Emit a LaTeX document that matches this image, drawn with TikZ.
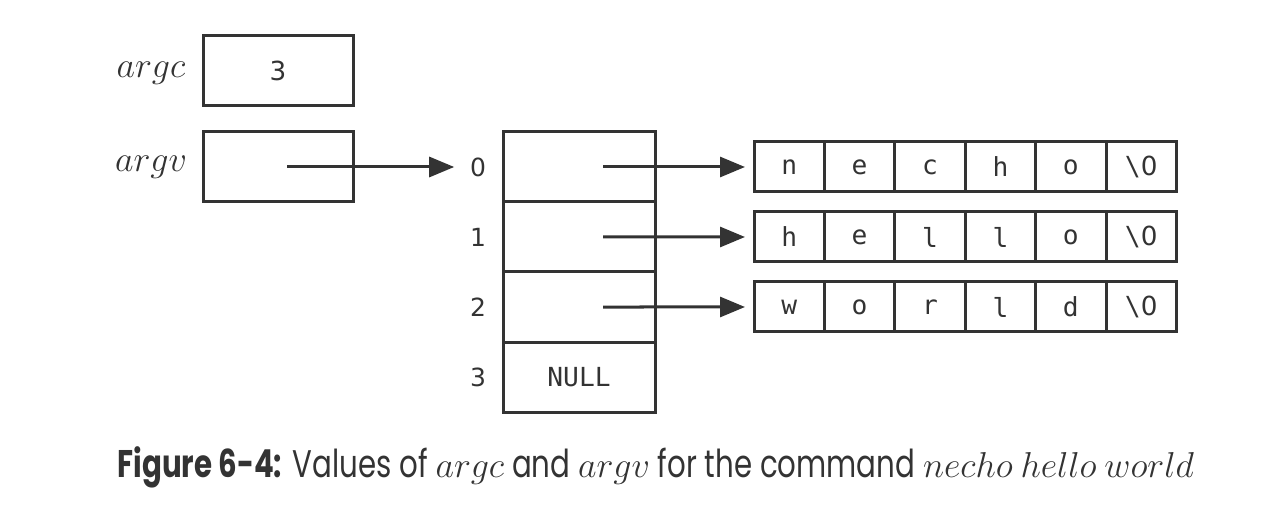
\documentclass[tikz,border=0pt]{standalone}
\usepackage{fontspec}
\setmonofont{DejaVu Sans Mono}
\newfontfamily\capfont[FakeStretch=0.76]{Poppins}
\newfontfamily\digitfont{DejaVu Sans}
\usetikzlibrary{arrows.meta,positioning}
\definecolor{ink}{HTML}{333333}

\tikzset{
  cell/.style={draw, line width=1.2pt, inner sep=0pt, outer sep=0pt,
    font=\ttfamily\fontsize{10.5}{12}\selectfont},
  box/.style={cell, minimum width=60pt, minimum height=28pt},
  slot/.style={cell, minimum width=60.8pt, minimum height=28pt},
  chr/.style={cell, minimum width=28.16pt, minimum height=20pt},
  idx/.style={font=\digitfont\fontsize{10}{12}\selectfont},
  lbl/.style={font=\fontsize{13.5}{15}\selectfont},
  ptr/.style={line width=1.2pt, -{Triangle[length=10pt,width=8pt]}}
}

\begin{document}
\begin{tikzpicture}[x=0.4pt,y=-0.4pt,color=ink]
    \useasboundingbox (0,0) rectangle (1280,512);
    % argc and argv
    \node[box] (argc) at (278,71) {\digitfont 3};
    \node[box] (argv) at (278,167) {};
    \node[lbl] (argclbl) at (151,73) {$argc$};
    \node[lbl] (argvlbl) at (151,167) {$argv$};
    % pointer array
    \node[slot] (a0) at (579,167) {};
    \node[slot, below=0pt of a0] (a1) {};
    \node[slot, below=0pt of a1] (a2) {};
    \node[slot, below=0pt of a2] (a3) {NULL};
    \foreach \i in {0,...,3}
        \node[idx] (idx\i) at ([xshift=-10pt]a\i.west) {\i};
    % strings
    \foreach \row/\y/\word in {0/167/{n,e,c,h,o,\textbackslash{\digitfont 0}},
                               1/237/{h,e,l,l,o,\textbackslash{\digitfont 0}},
                               2/307/{w,o,r,l,d,\textbackslash{\digitfont 0}}}
        \foreach \ch [count=\i] in \word
            \node[chr] (s\row-\i) at ({789.2+70.4*(\i-1)},\y) {\ch};
    % arrows
    \coordinate (argvptr) at ([xshift=3.6pt]argv.center);
    \draw[ptr, shorten >=2.8pt] (argvptr) -- (idx0.west);
    \foreach \row in {0,1,2}
        \draw[ptr, shorten >=3.6pt] ([xshift=9.6pt]a\row.center) -- (s\row-1.west);
    % caption
    \node[anchor=base west, inner sep=0pt, font=\capfont\fontsize{15.4}{20}\selectfont] (cap) at (117,478)
        {\textbf{Figure 6-4:} Values of $argc$ and $argv$ for the command $necho\ hello\ world$};
\end{tikzpicture}
\end{document}
